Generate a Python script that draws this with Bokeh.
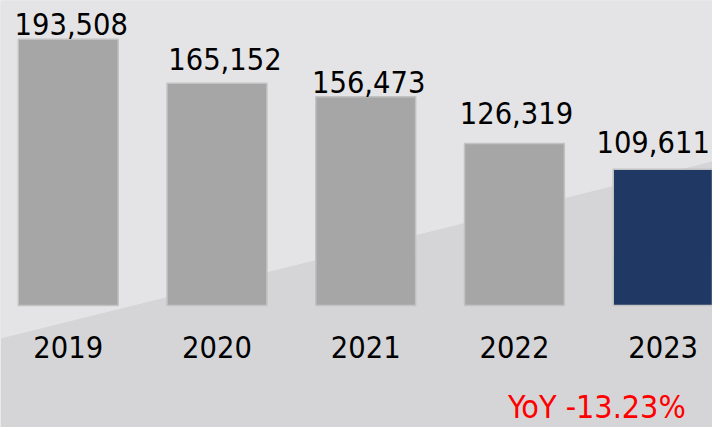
from bokeh.plotting import figure
from bokeh.models import ColumnDataSource, Range1d, PolyAnnotation
from bokeh.core.properties import value
from bokeh.embed import file_html
from bokeh.resources import INLINE

# ---- data ----
years = ["2019", "2020", "2021", "2022", "2023"]
counts = [193508, 165152, 156473, 126319, 109611]

# ---- style ----
FONT = "'DejaVu Sans Condensed', 'DejaVu Sans', sans-serif"
BAR_GREY = "#a6a6a6"
BAR_NAVY = "#203864"
BASE = 21800  # value axis starts here (bars rise from it)
SHIFT = -11   # baseline correction for svg text
label_dx = [3, 8, 3, 2, -10]
label_dy = [d + SHIFT for d in [-4, -13, -4, -19, -16]]

idx = list(range(len(years)))
colors = [BAR_NAVY if i == len(years) - 1 else BAR_GREY for i in idx]
src = ColumnDataSource(dict(
    x=idx, top=counts, year=years, color=colors,
    lab=[f"{v:,}" for v in counts], dx=label_dx, dy=label_dy,
))

W, H = 712, 427
p = figure(width=W, height=H, output_backend="svg", toolbar_location=None,
           x_range=Range1d(-0.4555, 4.3317), y_range=Range1d(-56895, 218536),
           x_axis_type=None, y_axis_type=None, min_border=0)
p.outline_line_color = None
p.grid.visible = False
p.background_fill_color = "#d5d5d7"
p.border_fill_color = "#d5d5d7"

# lighter upper-left background area (screen units, y measured from bottom)
p.add_layout(PolyAnnotation(
    xs=[0, W, W, 0], ys=[H, H, 266, 89],
    xs_units="screen", ys_units="screen", level="underlay",
    fill_color="#e4e4e6", fill_alpha=1.0, line_color=None))

p.vbar(x="x", top="top", bottom=BASE, width=0.6715, source=src,
       fill_color="color", line_color="#c2c2c2", line_width=1.5)

p.text(x="x", y="top", text="lab", source=src, x_offset="dx", y_offset="dy",
       text_align="center", text_baseline="alphabetic",
       text_font=value(FONT), text_font_size="30.5px", text_color="#000000")

p.text(x="x", y=BASE, text="year", source=src, y_offset=53 + SHIFT,
       text_align="center", text_baseline="alphabetic",
       text_font=value(FONT), text_font_size="30.5px", text_color="#000000")

yoy = (counts[-1] - counts[-2]) / counts[-2] * 100
p.text(x=[idx[-1]], y=[BASE], text=[f"YoY {yoy:.2f}%"], x_offset=22.6, y_offset=113 + SHIFT,
       text_align="right", text_baseline="alphabetic",
       text_font=value(FONT), text_font_size="32px", text_color="#ff0000")

open("out.html", "w").write(file_html(p, INLINE))
